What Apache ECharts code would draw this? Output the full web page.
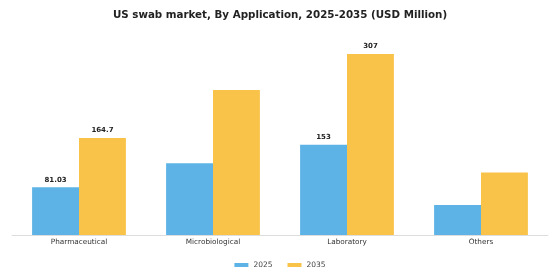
<!DOCTYPE html>
<html>
<head>
<meta charset="utf-8">
<script src="https://cdn.jsdelivr.net/npm/echarts@6/dist/echarts.min.js"></script>
<style>
  html, body { margin: 0; padding: 0; background: #fff; }
  #chart { width: 560px; height: 280px; }
</style>
</head>
<body>
<div id="chart"></div>
<script>
const categories = ['Pharmaceutical', 'Microbiological', 'Laboratory', 'Others'];
const values2025 = [81.03, 121.6, 153, 51];
const values2035 = [164.7, 246, 307, 106];
// only some bars carry a value label in the original
const shown2025 = [true, false, true, false];
const shown2035 = [true, false, true, false];

const makeData = function (values, shown) {
    return values.map(function (v, i) {
        return {
            value: v,
            label: { show: shown[i] }
        };
    });
};

const chart = echarts.init(document.getElementById('chart'));
chart.setOption({
    animation: false,
    title: {
        text: 'US swab market, By Application, 2025-2035 (USD Million)',
        left: 'center',
        top: 5,
        textStyle: {
            fontFamily: 'DejaVu Sans',
            fontSize: 10.3,
            fontWeight: 'bold',
            color: '#222'
        }
    },
    legend: {
        bottom: 6,
        left: 'center',
        itemWidth: 14,
        itemHeight: 4,
        itemGap: 15,
        icon: 'rect',
        textStyle: { fontFamily: 'DejaVu Sans', fontSize: 7.5, color: '#444' },
        data: ['2025', '2035']
    },
    grid: {
        left: 12,
        right: 12,
        top: 34.5,
        bottom: 45
    },
    xAxis: {
        type: 'category',
        data: categories,
        axisTick: { show: false },
        axisLine: { lineStyle: { color: '#ddd' } },
        axisLabel: {
            fontFamily: 'DejaVu Sans',
            fontSize: 7.3,
            color: '#333',
            margin: 4
        }
    },
    yAxis: {
        type: 'value',
        min: 0,
        max: 340,
        show: false,
        splitLine: { show: false }
    },
    series: [
        {
            name: '2025',
            type: 'bar',
            barGap: '0%',
            barCategoryGap: '30%',
            itemStyle: { color: '#5DB3E6' },
            label: {
                position: 'top',
                distance: 4,
                fontFamily: 'DejaVu Sans',
                fontSize: 7,
                fontWeight: 'bold',
                color: '#222'
            },
            data: makeData(values2025, shown2025)
        },
        {
            name: '2035',
            type: 'bar',
            barGap: '0%',
            barCategoryGap: '30%',
            itemStyle: { color: '#F9C34A' },
            label: {
                position: 'top',
                distance: 4,
                fontFamily: 'DejaVu Sans',
                fontSize: 7,
                fontWeight: 'bold',
                color: '#222'
            },
            data: makeData(values2035, shown2035)
        }
    ]
});
</script>
</body>
</html>
